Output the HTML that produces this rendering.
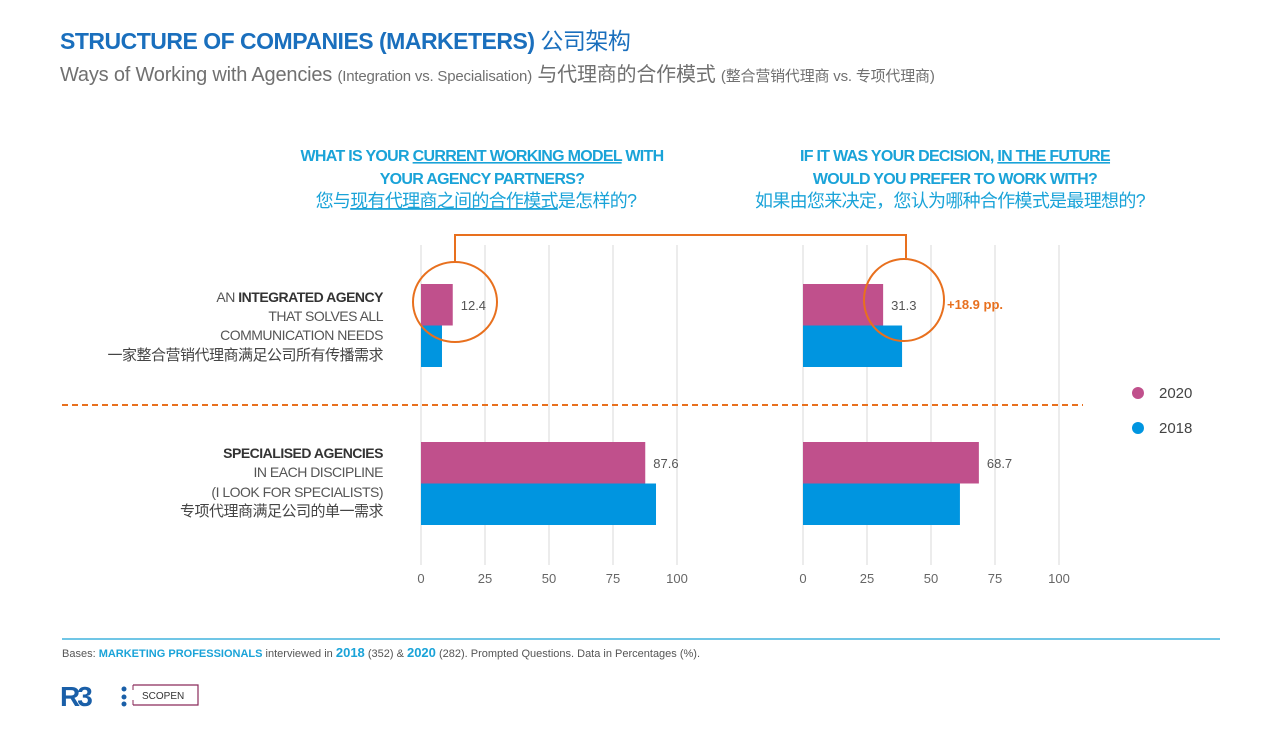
<!DOCTYPE html>
<html><head><meta charset="utf-8">
<style>
html,body{margin:0;padding:0;background:#fff;}
svg{display:block;font-family:"Liberation Sans","Noto Sans CJK SC",sans-serif;}
</style></head>
<body>
<svg id="chart" width="1280" height="729" viewBox="0 0 1280 729">
<text x="60" y="49" font-size="23" font-weight="bold" fill="#1a6fbd" style="letter-spacing:-0.5px">STRUCTURE  OF COMPANIES (MARKETERS) <tspan font-weight="normal">公司架构</tspan></text>
<text x="60" y="81" font-size="20" fill="#707070" style="letter-spacing:-0.2px">Ways of Working with Agencies <tspan font-size="15">(Integration vs. Specialisation)</tspan> 与代理商的合作模式 <tspan font-size="15">(整合营销代理商  vs.  专项代理商)</tspan></text>

<g fill="#1aa3d8" font-size="16" text-anchor="middle" style="letter-spacing:-0.7px">
<text x="482" y="161" font-weight="bold">WHAT IS YOUR <tspan text-decoration="underline">CURRENT WORKING MODEL</tspan> WITH</text>
<text x="482" y="184" font-weight="bold">YOUR AGENCY PARTNERS?</text>
<text x="476" y="207" font-size="18">您与<tspan text-decoration="underline">现有代理商之间的合作模式</tspan>是怎样的?</text>
</g>
<g fill="#1aa3d8" font-size="16" text-anchor="middle" style="letter-spacing:-0.7px">
<text x="955" y="161" font-weight="bold">IF IT WAS YOUR DECISION, <tspan text-decoration="underline">IN THE FUTURE</tspan></text>
<text x="955" y="184" font-weight="bold">WOULD YOU PREFER TO WORK WITH?</text>
<text x="950" y="207" font-size="18">如果由您来决定，您认为哪种合作模式是最理想的?</text>
</g>

<g fill="#333" font-size="14" text-anchor="end" style="letter-spacing:-0.5px">
<text x="383" y="302"><tspan fill="#555">AN </tspan><tspan font-weight="bold">INTEGRATED AGENCY</tspan></text>
<text x="383" y="321" fill="#555">THAT SOLVES ALL</text>
<text x="383" y="340" fill="#555">COMMUNICATION NEEDS</text>
<text x="383" y="360" fill="#444" font-size="15">一家整合营销代理商满足公司所有传播需求</text>
<text x="383" y="458" font-weight="bold">SPECIALISED AGENCIES</text>
<text x="383" y="477" fill="#555">IN EACH DISCIPLINE</text>
<text x="383" y="497" fill="#555">(I LOOK FOR SPECIALISTS)</text>
<text x="383" y="516" fill="#444" font-size="15">专项代理商满足公司的单一需求</text>
</g>

<g id="grid"></g>
<g id="bars"></g>

<line x1="62" y1="405" x2="1083" y2="405" stroke="#e8701e" stroke-width="2" stroke-dasharray="6,4"/>

<g fill="none" stroke="#e8701e" stroke-width="2">
<polyline points="455,262 455,235 906,235 906,258"/>
<ellipse cx="455" cy="302" rx="42" ry="40"/>
<ellipse cx="904" cy="300" rx="40" ry="41"/>
</g>
<text x="947" y="309" font-size="13" font-weight="bold" fill="#e8701e">+18.9 pp.</text>

<g font-size="15" fill="#444">
<circle cx="1138" cy="393" r="6" fill="#c0508c"/>
<text x="1159" y="398">2020</text>
<circle cx="1138" cy="428" r="6" fill="#0095e0"/>
<text x="1159" y="433">2018</text>
</g>

<line x1="62" y1="639" x2="1220" y2="639" stroke="#1aa3d8" stroke-width="1.2"/>
<text x="62" y="657" font-size="11" fill="#555">Bases:  <tspan fill="#1aa3d8" font-weight="bold">MARKETING PROFESSIONALS</tspan> interviewed in <tspan fill="#1aa3d8" font-weight="bold" font-size="13">2018</tspan> (352) &amp; <tspan fill="#1aa3d8" font-weight="bold" font-size="13">2020</tspan> (282). Prompted  Questions. Data in Percentages  (%).</text>

<g>
<text x="60" y="706" font-size="28" font-weight="bold" fill="#1a5fa8" style="letter-spacing:-3px">R3</text>
<circle cx="124" cy="689" r="2.5" fill="#1a5fa8"/><circle cx="124" cy="697" r="2.5" fill="#1a5fa8"/><circle cx="124" cy="704" r="2.5" fill="#1a5fa8"/>
</g>
<g>
<polyline points="133,685 198,685 198,705 133,705" fill="none" stroke="#8a2a5a" stroke-width="1.2"/>
<line x1="133" y1="685" x2="133" y2="690" stroke="#8a2a5a"/><line x1="133" y1="700" x2="133" y2="705" stroke="#8a2a5a"/>
<text x="142" y="699" font-size="10" fill="#333">SCOPEN</text>
</g>
</svg>
<script>
const categories = ["integrated", "specialised"];
const current2020 = [12.4, 87.6];
const current2018 = [8.2, 91.8];
const future2020 = [31.3, 68.7];
const future2018 = [38.7, 61.3];
const ticks = [0, 25, 50, 75, 100];
const tickLabels = ["0", "25", "50", "75", "100"];

const NS = "http://www.w3.org/2000/svg";
const panels = [
  {name: "current", x0: 421, s2020: current2020, s2018: current2018},
  {name: "future", x0: 803, s2020: future2020, s2018: future2018}
];
const catY = [284, 442];
const barH = 41.5;
function xScale(p, v) { return p.x0 + v * 2.56; }
const grid = document.getElementById("grid");
const bars = document.getElementById("bars");
panels.forEach(p => {
  ticks.forEach((t, i) => {
    const l = document.createElementNS(NS, "line");
    l.setAttribute("x1", xScale(p, t)); l.setAttribute("x2", xScale(p, t));
    l.setAttribute("y1", 245); l.setAttribute("y2", 565);
    l.setAttribute("stroke", "#d9d9d9"); l.setAttribute("stroke-width", "1");
    
    
    grid.appendChild(l);
    const tx = document.createElementNS(NS, "text");
    tx.setAttribute("x", xScale(p, t)); tx.setAttribute("y", 583);
    tx.setAttribute("text-anchor", "middle"); tx.setAttribute("font-size", "13"); tx.setAttribute("fill", "#666");
    tx.textContent = tickLabels[i];
    
    
    grid.appendChild(tx);
  });
  categories.forEach((c, i) => {
    [[p.s2020, "#c0508c", 0], [p.s2018, "#0095e0", 1]].forEach(([arr, col, k]) => {
      const r = document.createElementNS(NS, "rect");
      r.setAttribute("x", p.x0); r.setAttribute("y", catY[i] + k * barH);
      r.setAttribute("width", xScale(p, arr[i]) - p.x0); r.setAttribute("height", barH);
      r.setAttribute("fill", col);
      
      
      bars.appendChild(r);
    });
    const v = document.createElementNS(NS, "text");
    v.setAttribute("x", xScale(p, p.s2020[i]) + 8); v.setAttribute("y", catY[i] + 26);
    v.setAttribute("font-size", "13"); v.setAttribute("fill", "#555");
    v.textContent = p.s2020[i].toFixed(1);
    
    
    bars.appendChild(v);
  });
});
</script>
</body></html>
